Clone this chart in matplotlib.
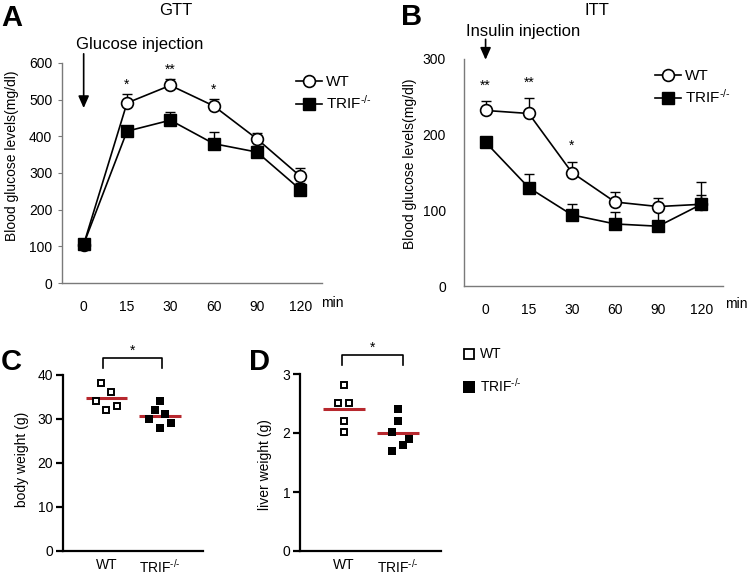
import matplotlib
matplotlib.use('Agg')
import matplotlib.pyplot as plt
from matplotlib.lines import Line2D
import numpy as np

plt.rcParams['font.family'] = ['Liberation Sans', 'DejaVu Sans']
plt.rcParams['mathtext.fontset'] = 'custom'
plt.rcParams['mathtext.rm'] = 'Liberation Sans'
plt.rcParams['mathtext.it'] = 'Liberation Sans:italic'
plt.rcParams['mathtext.bf'] = 'Liberation Sans:bold'

# ---------------- data ----------------
time_labels = ['0', '15', '30', '60', '90', '120']

gtt_wt = [105, 491, 539, 483, 393, 291]
gtt_wt_err = [0, 25, 18, 20, 15, 24]
gtt_trif = [106, 414, 444, 380, 357, 255]
gtt_trif_err = [0, 11, 22, 32, 16, 18]
gtt_stars = ['', '*', '**', '*', '', '']

itt_wt = [232, 228, 150, 111, 105, 108]
itt_wt_err = [12, 20, 14, 13, 11, 12]
itt_trif = [190, 130, 94, 82, 79, 108]
itt_trif_err = [4, 18, 15, 16, 26, 30]
itt_stars = ['**', '**', '*', '', '', '']

groups = ['WT', r'TRIF$^{\text{-/-}}$']
body_wt = [38.1, 36.1, 34.1, 33.0, 32.0]
body_trif = [34.1, 32.0, 31.1, 30.0, 29.0, 28.0]
liver_wt = [2.81, 2.51, 2.51, 2.21, 2.01]
liver_trif = [2.40, 2.21, 2.01, 1.90, 1.80, 1.70]

# ---------------- layout helpers ----------------
W, H = 749, 577
fig = plt.figure(figsize=(W / 100, H / 100), dpi=100)


def rect(l, t, r, b):
    return [l / W, 1 - b / H, (r - l) / W, (b - t) / H]


def fx(x):
    return x / W


def fy(y):
    return 1 - y / H


RED = '#b7282e'
GREY = '#7a7a7a'


def line_panel(ax, wt, wt_err, trif, trif_err, stars, ymax, yticks, star_off):
    x = np.arange(len(time_labels))
    ax.errorbar(x, wt, yerr=[np.zeros(len(wt)), wt_err], fmt='none', ecolor='k',
                elinewidth=1.0, capsize=3.5, capthick=1.0, zorder=2)
    ax.errorbar(x, trif, yerr=[np.zeros(len(trif)), trif_err], fmt='none', ecolor='k',
                elinewidth=1.0, capsize=3.5, capthick=1.0, zorder=2)
    l1, = ax.plot(x, wt, '-o', color='k', lw=1.2, ms=8.5, mfc='white', mec='k',
                  mew=1.2, zorder=3)
    l2, = ax.plot(x, trif, '-s', color='k', lw=1.2, ms=8.5, mfc='k', mec='k',
                  mew=1.0, zorder=4)
    for xi, s, v, e in zip(x, stars, wt, wt_err):
        if s:
            ax.annotate(s, xy=(xi, v + e), xytext=(0, star_off), textcoords='offset points',
                        ha='center', va='baseline', fontsize=10, annotation_clip=False)
    ax.set_xlim(-0.5, 5.5)
    ax.set_ylim(0, ymax)
    ax.set_xticks(x)
    ax.set_xticklabels(time_labels)
    ax.set_yticks(yticks)
    for s in ['top', 'right']:
        ax.spines[s].set_visible(False)
    for s in ['left', 'bottom']:
        ax.spines[s].set_color(GREY)
        ax.spines[s].set_linewidth(1.0)
    ax.tick_params(axis='x', length=0, pad=12, labelsize=10)
    ax.tick_params(axis='y', labelsize=10, color=GREY)
    return l1, l2


# ---------------- Panel A ----------------
axA = fig.add_axes(rect(62, 63, 322, 283))
hA = line_panel(axA, gtt_wt, gtt_wt_err, gtt_trif, gtt_trif_err, gtt_stars,
                600, range(0, 601, 100), 3.5)
axA.tick_params(axis='y', length=3, pad=4)
axA.set_ylabel('Blood glucose levels(mg/dl)', fontsize=10)
axA.yaxis.set_label_coords(-0.165, 0.577)
axA.annotate('', xy=(0, 477), xytext=(0, 625),
             arrowprops=dict(arrowstyle='-|>,head_length=0.45,head_width=0.2', color='k',
                             lw=1.2, mutation_scale=16, shrinkA=0, shrinkB=0),
             annotation_clip=False)
axA.legend(hA, groups, loc='center left',
           bbox_to_anchor=(fx(296), fy(93.5)), bbox_transform=fig.transFigure,
           frameon=False, fontsize=11, handlelength=1.7, handletextpad=0.25,
           borderpad=0, borderaxespad=0, labelspacing=0.35)
fig.text(fx(332), fy(303), 'min', ha='center', va='center', fontsize=10)

# ---------------- Panel B ----------------
axB = fig.add_axes(rect(464, 59, 723, 286))
hB = line_panel(axB, itt_wt, itt_wt_err, itt_trif, itt_trif_err, itt_stars,
                300, range(0, 301, 100), 8.5)
axB.tick_params(axis='y', length=0, pad=13)
axB.set_ylabel('Blood glucose levels(mg/dl)', fontsize=10)
axB.yaxis.set_label_coords(-0.181, 0.537)
axB.annotate('', xy=(0, 299), xytext=(0, 326),
             arrowprops=dict(arrowstyle='-|>,head_length=0.45,head_width=0.2', color='k',
                             lw=1.2, mutation_scale=16, shrinkA=0, shrinkB=0),
             annotation_clip=False)
axB.legend(hB, groups, loc='center left',
           bbox_to_anchor=(fx(655), fy(87.5)), bbox_transform=fig.transFigure,
           frameon=False, fontsize=11, handlelength=1.7, handletextpad=0.25,
           borderpad=0, borderaxespad=0, labelspacing=0.35)
fig.text(fx(736), fy(304), 'min', ha='center', va='center', fontsize=10)


# ---------------- scatter panels ----------------
def dot_panel(ax, wt, trif, ymax, yticks, jit_wt, jit_trif, br, ylabel):
    ax.plot(np.zeros(len(wt)) + np.array(jit_wt), wt, 's', ms=5.0, mfc='white', mec='k',
            mew=1.4, ls='none', zorder=3)
    ax.plot(np.ones(len(trif)) + np.array(jit_trif), trif, 's', ms=5.8, mfc='k', mec='k',
            mew=0, ls='none', zorder=3)
    ax.hlines([np.mean(wt)], -0.39, 0.39, color=RED, lw=2.2, zorder=2)
    ax.hlines([np.mean(trif)], 0.61, 1.39, color=RED, lw=2.2, zorder=2)
    ax.set_xlim(-0.81, 1.8)
    ax.set_ylim(0, ymax)
    ax.set_yticks(yticks)
    ax.set_xticks([0, 1])
    ax.set_xticklabels(groups)
    for s in ['top', 'right']:
        ax.spines[s].set_visible(False)
    for s in ['left', 'bottom']:
        ax.spines[s].set_linewidth(1.6)
    ax.tick_params(axis='x', length=0, pad=5, labelsize=10)
    ax.tick_params(axis='y', length=5, width=1.6, pad=2, labelsize=10)
    ax.set_ylabel(ylabel, fontsize=10)
    x0, x1, ytop, ybot, ystar = br
    ax.plot([x0, x0, x1, x1], [ybot, ytop, ytop, ybot], color='k', lw=1.2,
            clip_on=False)
    ax.text((x0 + x1) / 2, ystar, '*', ha='center', va='center', fontsize=10)


axC = fig.add_axes(rect(63, 375, 203, 551))
dot_panel(axC, body_wt, body_trif, 40, range(0, 41, 10),
          [-0.11, 0.09, -0.2, 0.19, 0.0], [0.0, -0.1, 0.1, -0.2, 0.2, 0.0],
          (-0.07, 1.04, 43.9, 41.7, 45.5), 'body weight (g)')
axC.yaxis.set_label_coords(-0.243, 0.523)

axD = fig.add_axes(rect(300, 374, 441, 551))
dot_panel(axD, liver_wt, liver_trif, 3, range(0, 4, 1),
          [0.0, -0.1, 0.1, 0.0, 0.0], [0.0, 0.0, -0.1, 0.2, 0.1, -0.1],
          (-0.04, 1.09, 3.32, 3.15, 3.44), 'liver weight (g)')
axD.yaxis.set_label_coords(-0.199, 0.49)

leg_handles = [Line2D([], [], ls='none', marker='s', ms=7.5, mfc='white', mec='k', mew=1.3),
               Line2D([], [], ls='none', marker='s', ms=8.8, mfc='k', mec='k', mew=0)]
fig.legend(leg_handles, groups, loc='center left',
           bbox_to_anchor=(fx(462), fy(371)), bbox_transform=fig.transFigure,
           frameon=False, fontsize=10, handlelength=1.0, handletextpad=0.3,
           borderpad=0, borderaxespad=0, labelspacing=1.1)

# ---------------- titles & labels ----------------
fig.text(fx(176), fy(15), 'GTT', ha='center', va='baseline', fontsize=12)
fig.text(fx(597), fy(15), 'ITT', ha='center', va='baseline', fontsize=12)
fig.text(fx(140), fy(49), 'Glucose injection', ha='center', va='baseline', fontsize=12)
fig.text(fx(523), fy(36), 'Insulin injection', ha='center', va='baseline', fontsize=12)
fig.text(fx(1), fy(26), 'A', ha='left', va='baseline', fontsize=21, fontweight='bold')
fig.text(fx(401), fy(25), 'B', ha='left', va='baseline', fontsize=21, fontweight='bold')
fig.text(fx(1), fy(370), 'C', ha='left', va='baseline', fontsize=21, fontweight='bold')
fig.text(fx(249), fy(370), 'D', ha='left', va='baseline', fontsize=21, fontweight='bold')

fig.savefig('out.png', dpi=100)
